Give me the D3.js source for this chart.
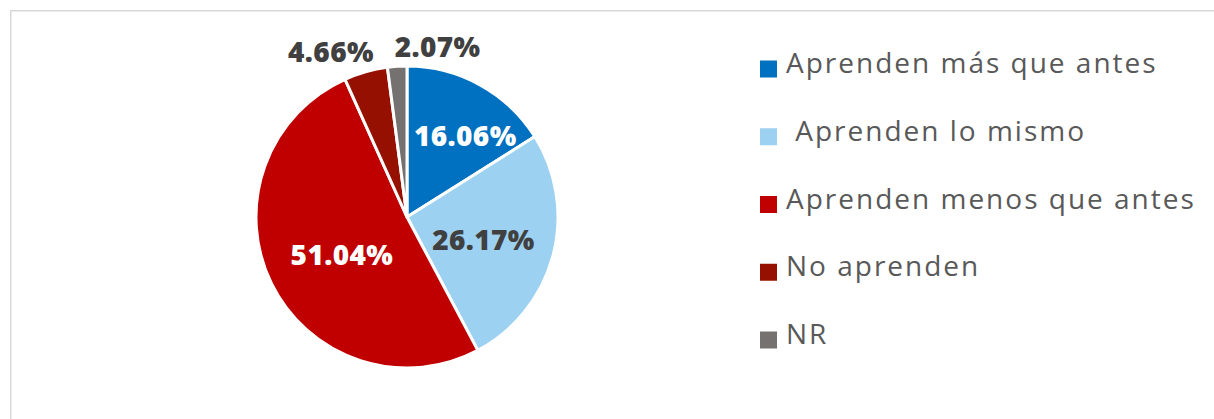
<!DOCTYPE html>
<html>
<head>
<meta charset="utf-8">
<script src="https://cdn.jsdelivr.net/npm/d3@7"></script>
<style>
  html, body { margin: 0; padding: 0; background: #fff; }
  svg { display: block; }
</style>
</head>
<body>
<svg id="canvas"></svg>
<script>
// chart data
const categories = ["Aprenden más que antes", " Aprenden lo mismo", "Aprenden menos que antes", "No aprenden", "NR"];
const percents = [16.06, 26.17, 51.04, 4.66, 2.07];
const labels = ["16.06%", "26.17%", "51.04%", "4.66%", "2.07%"];

const colors = ["#0070c0", "#9dd1f1", "#c00000", "#961000", "#767171"];
const labelColors = ["#ffffff", "#404040", "#ffffff", "#404040", "#404040"];
// inside or outside the pie, and a small nudge like excel's best fit
const labelOutside = [false, false, false, true, true];
const labelNudge = [[13, 1], [-14, -1], [19, -3], [-28, 5], [42, 6]];

const width = 1214;
const height = 419;
const cx = 407;
const cy = 217;
const radius = 151;

let canvas = d3.select('#canvas')
    .attr('width', width)
    .attr('height', height);

// frame
canvas.append('rect')
    .attr('x', 10.75)
    .attr('y', 10.75)
    .attr('width', width + 20)
    .attr('height', height + 20)
    .attr('fill', 'none')
    .attr('stroke', '#d9d9d9')
    .attr('stroke-width', 1.5);

const pie = d3.pie().sort(null).value(d => d);
const arcs = pie(percents);

const arc = d3.arc().innerRadius(0).outerRadius(radius);
const inLabelArc = d3.arc().innerRadius(radius * 0.62).outerRadius(radius * 0.62);
const outLabelArc = d3.arc().innerRadius(radius + 25).outerRadius(radius + 25);

let g = canvas.append('g')
    .attr('transform', 'translate(' + cx + ',' + cy + ')');

g.selectAll('path')
    .data(arcs)
    .enter()
    .append('path')
    .attr('d', arc)
    .attr('fill', (d, i) => colors[i])
    .attr('stroke', '#ffffff')
    .attr('stroke-width', 3)
    .attr('stroke-linejoin', 'round');

g.selectAll('text.label')
    .data(arcs)
    .enter()
    .append('text')
    .attr('class', 'label')
    .attr('transform', (d, i) => {
        let c = labelOutside[i] ? outLabelArc.centroid(d) : inLabelArc.centroid(d);
        return 'translate(' + (c[0] + labelNudge[i][0]) + ',' + (c[1] + labelNudge[i][1]) + ')';
    })
    .attr('text-anchor', 'middle')
    .attr('dy', '0.35em')
    .attr('fill', (d, i) => labelColors[i])
    .style('font-family', '"Open Sans", sans-serif')
    .style('font-weight', 800)
    .style('font-size', '28px')
    .style('letter-spacing', '0.4px')
    .text((d, i) => labels[i]);

// legend
const legendY = d3.scalePoint()
    .domain(categories)
    .range([69, 340]);

let legend = canvas.selectAll('g.legend')
    .data(categories)
    .enter()
    .append('g')
    .attr('class', 'legend')
    .attr('transform', d => 'translate(760,' + legendY(d) + ')');

legend.append('rect')
    .attr('x', 0)
    .attr('y', -8.5)
    .attr('width', 17)
    .attr('height', 17)
    .attr('fill', (d, i) => colors[i]);

legend.append('text')
    .attr('x', 26)
    .attr('y', 4)
    .attr('fill', '#595959')
    .style('white-space', 'pre')
    .style('font-family', '"Open Sans", sans-serif')
    .style('font-size', '28px')
    .style('letter-spacing', '2px')
    .text(d => d);
</script>
</body>
</html>
